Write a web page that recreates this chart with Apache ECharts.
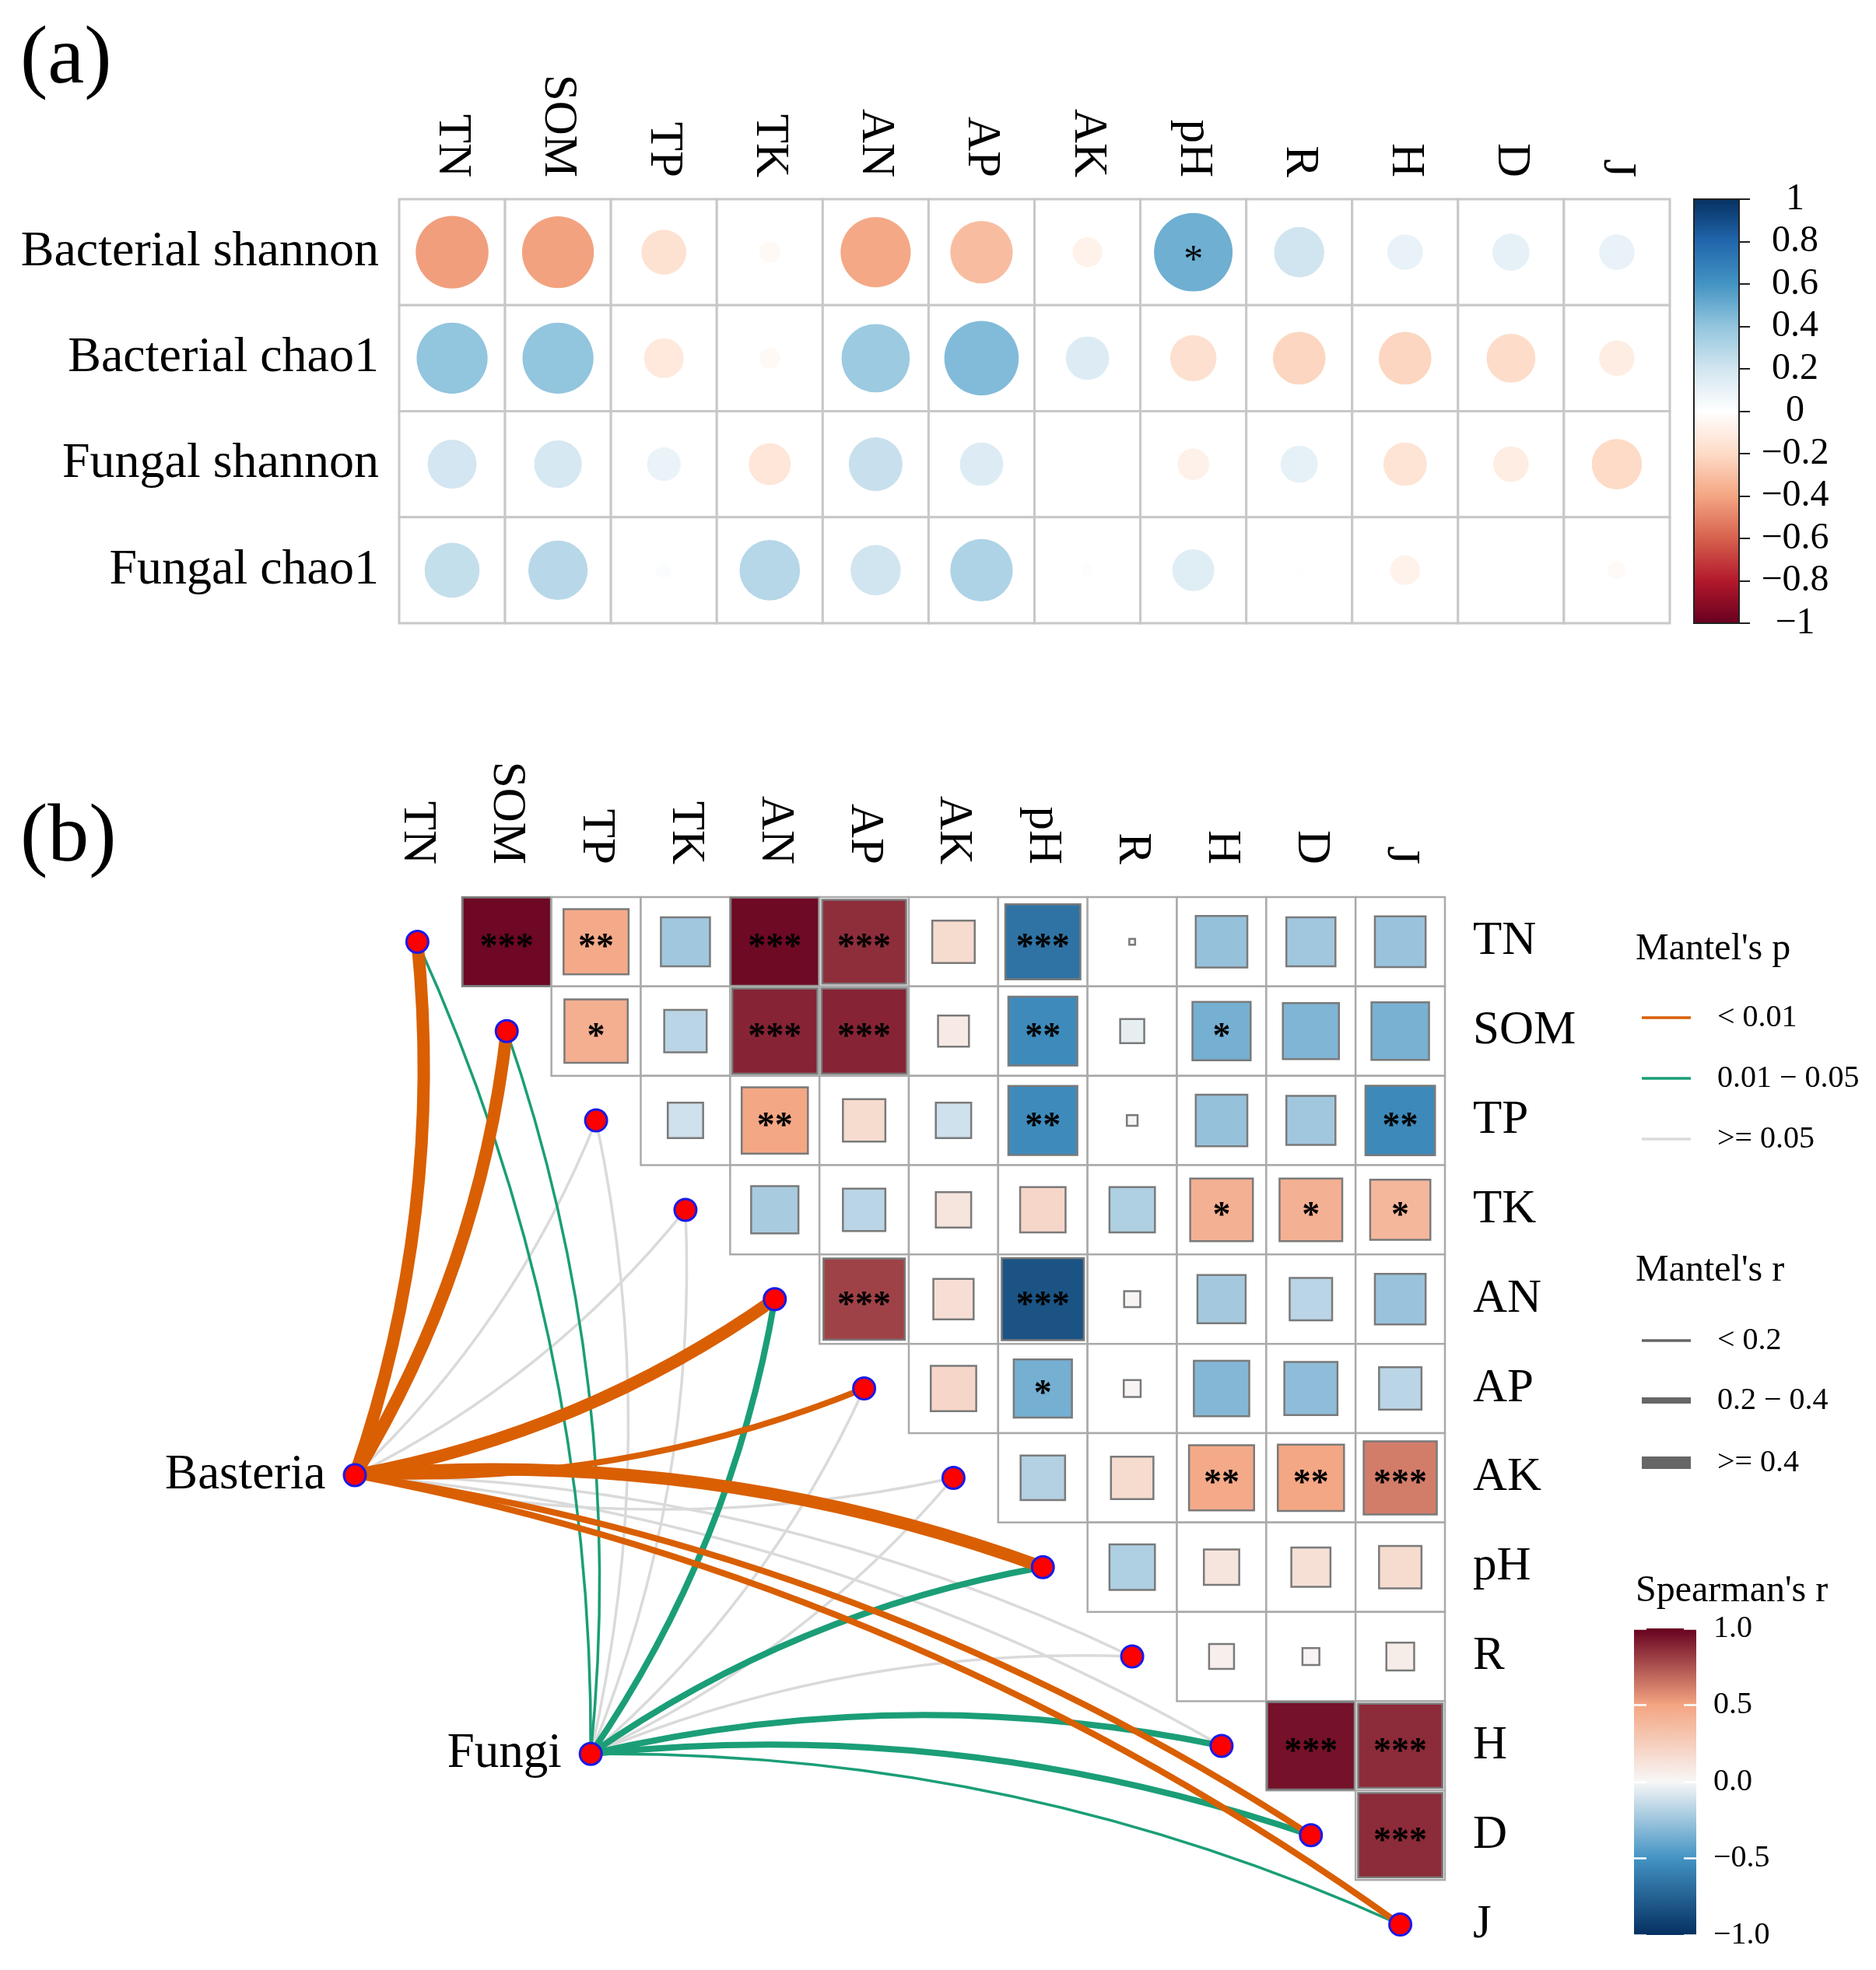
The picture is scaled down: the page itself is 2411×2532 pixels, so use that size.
<!DOCTYPE html>
<html><head><meta charset="utf-8">
<script src="https://cdn.jsdelivr.net/npm/echarts@6/dist/echarts.min.js"></script>
<style>html,body{margin:0;padding:0;background:#fff;} #chart{width:2411px;height:2532px;}</style>
</head><body><div id="chart"></div>
<script>
// ---------------- DATA ----------------
const envVars = ['TN','SOM','TP','TK','AN','AP','AK','pH','R','H','D','J'];
const diversityIndices = ['Bacterial shannon','Bacterial chao1','Fungal shannon','Fungal chao1'];

// panel (a): correlation of diversity indices with environmental variables
const corrBacterialShannon = [-0.42,-0.41,-0.16,-0.035,-0.39,-0.31,-0.07,0.49,0.20,0.10,0.11,0.10];
const corrBacterialChao1   = [0.40,0.40,-0.125,-0.035,0.37,0.44,0.15,-0.17,-0.22,-0.22,-0.19,-0.10];
const corrFungalShannon    = [0.19,0.18,0.09,-0.14,0.23,0.15,0.003,-0.08,0.11,-0.15,-0.10,-0.20];
const corrFungalChao1      = [0.24,0.28,0.02,0.29,0.20,0.31,0.012,0.14,0.01,-0.07,0.006,-0.027];
const sigBacterialShannon  = ['','','','','','','','*','','','',''];
const sigBacterialChao1    = ['','','','','','','','','','','',''];
const sigFungalShannon     = ['','','','','','','','','','','',''];
const sigFungalChao1       = ['','','','','','','','','','','',''];

// panel (b): Spearman's r among environmental variables (upper triangle, row i -> columns i+1..)
const spearmanTN  = [0.975,0.47,-0.24,0.97,0.86,0.17,-0.66,0.0015,-0.27,-0.24,-0.26];
const spearmanSOM = [0.44,-0.17,0.89,0.89,0.08,-0.54,-0.044,-0.36,-0.33,-0.35];
const spearmanTP  = [-0.11,0.49,0.17,-0.11,-0.54,0.0064,-0.27,-0.24,-0.55];
const spearmanTK  = [-0.22,-0.17,0.11,0.20,-0.20,0.43,0.43,0.39];
const spearmanAN  = [0.80,0.15,-0.82,0.017,-0.23,-0.17,-0.26];
const spearmanAP  = [0.20,-0.36,0.019,-0.32,-0.29,-0.17];
const spearmanAK  = [-0.19,0.17,0.47,0.49,0.62];
const spearmanPH  = [-0.20,0.11,0.14,0.17];
const spearmanR   = [0.048,0.019,0.062];
const spearmanH   = [0.95,0.87];
const spearmanD   = [0.87];
const sigTN  = ['***','**','','***','***','','***','','','',''];
const sigSOM = ['*','','***','***','','**','','*','',''];
const sigTP  = ['','**','','','**','','','','**'];
const sigTK  = ['','','','','','*','*','*'];
const sigAN  = ['***','','***','','','',''];
const sigAP  = ['','*','','','',''];
const sigAK  = ['','','**','**','***'];
const sigPH  = ['','','',''];
const sigR   = ['','',''];
const sigH   = ['***','***'];
const sigD   = ['***'];

// Mantel tests: community -> environmental variable
const bacteriaMantelR = [0.45,0.48,0.10,0.08,0.52,0.30,0.10,0.50,0.09,0.12,0.32,0.30];
const bacteriaMantelP = [0.001,0.001,0.25,0.41,0.001,0.004,0.31,0.001,0.22,0.15,0.003,0.006];
const fungiMantelR    = [0.15,0.14,0.08,0.06,0.28,0.10,0.09,0.27,0.11,0.29,0.33,0.16];
const fungiMantelP    = [0.03,0.04,0.32,0.45,0.02,0.12,0.27,0.02,0.18,0.02,0.015,0.04];
const mantelPLabels = ['< 0.01','0.01 \u2212 0.05','>= 0.05'];
const mantelRLabels = ['< 0.2','0.2 \u2212 0.4','>= 0.4'];

// ---------------- LAYOUT / STYLE ----------------
const FONT = "'Liberation Serif','Times New Roman',serif";
const hubPos = { Basteria: [-0.70, 5.97], Fungi: [1.94, 9.09] };
const paletteA = ['#67001F','#B2182B','#D6604D','#F4A582','#FDDBC7','#FFFFFF','#D1E5F0','#92C5DE','#4393C3','#2166AC','#053061']; // -1 -> 1
const paletteB = ['#053061','#4393C3','#F7F7F7','#F4A582','#67001F']; // -1 -> 1
const colA = v => echarts.color.lerp((v + 1) / 2, paletteA);
const colB = v => echarts.color.lerp((v + 1) / 2, paletteB);
const pColor = p => p < 0.01 ? '#D95F02' : (p < 0.05 ? '#1B9E77' : '#DADADA');
const rWidth = r => r < 0.2 ? 3.5 : (r < 0.4 ? 8 : 16);
const fmtA = v => { const a = Math.round(Math.abs(v) * 10) / 10; return (v < -1e-9 ? '\u2212' : '') + a; };
const fmtB = v => (v < -1e-9 ? '\u2212' : '') + Math.abs(v).toFixed(1);

// ---------------- BUILD ----------------
const rowsA = [corrBacterialShannon, corrBacterialChao1, corrFungalShannon, corrFungalChao1];
const sigRowsA = [sigBacterialShannon, sigBacterialChao1, sigFungalShannon, sigFungalChao1];
const circleData = [], circleSig = [];
rowsA.forEach((row, r) => row.forEach((v, c) => { circleData.push([c, r, v]); circleSig.push(sigRowsA[r][c]); }));

const rowsB = [spearmanTN, spearmanSOM, spearmanTP, spearmanTK, spearmanAN, spearmanAP, spearmanAK, spearmanPH, spearmanR, spearmanH, spearmanD];
const sigRowsB = [sigTN, sigSOM, sigTP, sigTK, sigAN, sigAP, sigAK, sigPH, sigR, sigH, sigD];
const squareData = [], squareSig = [];
rowsB.forEach((row, i) => row.forEach((v, k) => { squareData.push([i + 1 + k, i, v]); squareSig.push(sigRowsB[i][k]); }));

const linkData = [];
function addLinks(hub, rArr, pArr) {
  envVars.forEach((name, j) => {
    linkData.push({
      coords: [hubPos[hub], [j, j]],
      rank: pArr[j] < 0.01 ? 2 : (pArr[j] < 0.05 ? 1 : 0),
      lineStyle: { color: pColor(pArr[j]), width: rWidth(rArr[j]), curveness: j <= 6 ? -0.11 : 0.11, opacity: 1 }
    });
  });
}
addLinks('Basteria', bacteriaMantelR, bacteriaMantelP);
addLinks('Fungi', fungiMantelR, fungiMantelP);
linkData.sort((a, b) => a.rank - b.rank);

const nodeData = envVars.map((n, j) => ({ value: [j, j], name: n }));
['Basteria', 'Fungi'].forEach(h => nodeData.push({
  value: hubPos[h], name: h,
  label: { show: true, position: 'left', distance: 22, formatter: h, fontSize: 63, fontFamily: FONT, color: '#000' }
}));

const cellRect = (c, sz) => ({ x: c[0] - sz[0] / 2, y: c[1] - sz[1] / 2, width: sz[0], height: sz[1] });
const starText = (c, s, size, weight, dy) => ({ type: 'text', x: c[0], y: c[1] + dy,
  style: { text: s, fontSize: size, fontWeight: weight, fontFamily: FONT, fill: '#000', align: 'center', verticalAlign: 'middle' } });

const option = {
  backgroundColor: '#fff',
  animation: false,
  grid: [
    { left: 513, top: 256, width: 1633, height: 545 },
    { left: 2177, top: 256, width: 58, height: 545 },
    { left: 479, top: 1153, width: 1378, height: 1378 },
    { left: 479, top: 1153, width: 1378, height: 1378 },
    { left: 2100, top: 2093, width: 80, height: 394 }
  ],
  xAxis: [
    { gridIndex: 0, type: 'category', data: envVars, position: 'top', axisLine: { show: false }, axisTick: { show: false },
      axisLabel: { rotate: 90, interval: 0, margin: 28, fontSize: 61, fontFamily: FONT, color: '#000' } },
    { gridIndex: 1, type: 'category', data: [''], show: false },
    { gridIndex: 2, type: 'category', data: envVars, position: 'top', axisLine: { show: false }, axisTick: { show: false },
      axisLabel: { rotate: 90, interval: 0, margin: 42, fontSize: 61, fontFamily: FONT, color: '#000' } },
    { gridIndex: 3, type: 'value', min: -0.5, max: 11.5, show: false },
    { gridIndex: 4, type: 'category', data: [''], show: false }
  ],
  yAxis: [
    { gridIndex: 0, type: 'category', data: diversityIndices, inverse: true, axisLine: { show: false }, axisTick: { show: false },
      axisLabel: { interval: 0, margin: 26, fontSize: 64, fontFamily: FONT, color: '#000' } },
    { gridIndex: 1, type: 'value', min: -1, max: 1, interval: 0.2, position: 'right', z: 5,
      axisLine: { show: false }, splitLine: { show: false },
      axisTick: { show: true, length: 14, lineStyle: { color: '#222', width: 2 } },
      axisLabel: { align: 'center', margin: 72, fontSize: 48, fontFamily: FONT, color: '#000', formatter: fmtA } },
    { gridIndex: 2, type: 'category', data: envVars, inverse: true, position: 'right', axisLine: { show: false }, axisTick: { show: false },
      axisLabel: { interval: 0, margin: 36, fontSize: 61, fontFamily: FONT, color: '#000' } },
    { gridIndex: 3, type: 'value', min: -0.5, max: 11.5, inverse: true, show: false },
    { gridIndex: 4, type: 'value', min: -1, max: 1, interval: 0.5, position: 'right', z: 5,
      axisLine: { show: false }, splitLine: { show: false },
      axisTick: { show: true, inside: true, length: 16, lineStyle: { color: '#fff', width: 2.5 } },
      axisLabel: { margin: 22, fontSize: 40, fontFamily: FONT, color: '#000', formatter: fmtB } },
    { gridIndex: 4, type: 'value', min: -1, max: 1, interval: 0.5, position: 'left', z: 5,
      axisLine: { show: false }, splitLine: { show: false },
      axisTick: { show: true, inside: true, length: 16, lineStyle: { color: '#fff', width: 2.5 } },
      axisLabel: { show: false } }
  ],
  series: [
    // panel a cells + circles
    { type: 'custom', xAxisIndex: 0, yAxisIndex: 0, data: circleData, z: 2,
      renderItem: (params, api) => {
        const c = api.coord([api.value(0), api.value(1)]);
        const sz = api.size([1, 1]);
        const v = api.value(2);
        const r = 0.53 * Math.sqrt(Math.abs(v)) * Math.min(sz[0], sz[1]);
        const ch = [
          { type: 'rect', shape: cellRect(c, sz), style: { fill: '#fff', stroke: '#C8C8C8', lineWidth: 3 } },
          { type: 'circle', shape: { cx: c[0], cy: c[1], r: r }, style: { fill: colA(v) } }
        ];
        const s = circleSig[params.dataIndex];
        if (s) ch.push(starText(c, s, 50, 'normal', 12));
        return { type: 'group', children: ch };
      } },
    // panel a colorbar
    { type: 'custom', xAxisIndex: 1, yAxisIndex: 1, data: [[0, 0]], z: 2,
      renderItem: (params, api) => {
        const t = api.coord([0, 1]), b = api.coord([0, -1]);
        const w = api.size([1, 0])[0];
        const stops = paletteA.slice().reverse().map((c, i, arr) => ({ offset: i / (arr.length - 1), color: c }));
        return { type: 'rect', shape: { x: t[0] - w / 2, y: t[1], width: w, height: b[1] - t[1] },
          style: { fill: new echarts.graphic.LinearGradient(0, 0, 0, 1, stops), stroke: '#222', lineWidth: 2 } };
      } },
    // panel b cells + squares (side ~ |r|^0.42)
    { type: 'custom', xAxisIndex: 2, yAxisIndex: 2, data: squareData, z: 2,
      renderItem: (params, api) => {
        const c = api.coord([api.value(0), api.value(1)]);
        const sz = api.size([1, 1]);
        const v = api.value(2);
        const side = Math.min(1, Math.pow(Math.abs(v), 0.42)) * sz[0];
        const ch = [
          { type: 'rect', shape: cellRect(c, sz), style: { fill: '#fff', stroke: '#AAAAAA', lineWidth: 2.5 } },
          { type: 'rect', shape: { x: c[0] - side / 2, y: c[1] - side / 2, width: side, height: side },
            style: { fill: colB(v), stroke: '#7A7A7A', lineWidth: 2.5 } }
        ];
        const s = squareSig[params.dataIndex];
        if (s) ch.push(starText(c, s, 46, 'bold', 9));
        return { type: 'group', children: ch };
      } },
    // mantel links
    { type: 'lines', coordinateSystem: 'cartesian2d', xAxisIndex: 3, yAxisIndex: 3, clip: false, z: 3,
      lineStyle: { opacity: 1 }, data: linkData, silent: true },
    // nodes
    { type: 'scatter', xAxisIndex: 3, yAxisIndex: 3, clip: false, z: 4, symbolSize: 28,
      itemStyle: { color: '#FF0000', borderColor: '#1A1AE6', borderWidth: 3, opacity: 1 },
      data: nodeData },
    // spearman colorbar
    { type: 'custom', xAxisIndex: 4, yAxisIndex: 4, data: [[0, 0]], z: 2,
      renderItem: (params, api) => {
        const t = api.coord([0, 1]), b = api.coord([0, -1]);
        const w = api.size([1, 0])[0];
        const stops = paletteB.slice().reverse().map((c, i, arr) => ({ offset: i / (arr.length - 1), color: c }));
        return { type: 'rect', shape: { x: t[0] - w / 2, y: t[1], width: w, height: b[1] - t[1] },
          style: { fill: new echarts.graphic.LinearGradient(0, 0, 0, 1, stops) } };
      } }
  ],
  graphic: (function () {
    const g = [];
    const txt = (x, y, text, size) => ({ type: 'text', x: x, y: y, style: { text: text, fontSize: size, fontFamily: FONT, fill: '#000', align: 'left', verticalAlign: 'middle' } });
    g.push(txt(26, 78, '(a)', 106));
    g.push(txt(26, 1078, '(b)', 106));
    g.push(txt(2102, 1220, "Mantel's p", 48));
    const pCols = ['#D95F02', '#1B9E77', '#DADADA'];
    [1308, 1386, 1464].forEach((y, i) => {
      g.push({ type: 'line', shape: { x1: 2110, y1: y, x2: 2173, y2: y }, style: { stroke: pCols[i], lineWidth: 3.5 } });
      g.push(txt(2207, y, mantelPLabels[i], 40));
    });
    g.push(txt(2102, 1633, "Mantel's r", 48));
    const rW = [3.5, 8, 16];
    [1723, 1800, 1880].forEach((y, i) => {
      g.push({ type: 'line', shape: { x1: 2110, y1: y, x2: 2173, y2: y }, style: { stroke: '#666', lineWidth: rW[i] } });
      g.push(txt(2207, y, mantelRLabels[i], 40));
    });
    g.push(txt(2102, 2045, "Spearman's r", 48));
    return g;
  })()
};

const chart = echarts.init(document.getElementById('chart'), null, { renderer: 'canvas' });
chart.setOption(option);
</script></body></html>
